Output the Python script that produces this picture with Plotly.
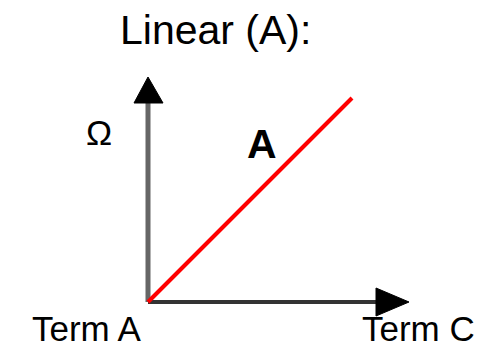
import plotly.graph_objects as go

# data: linear resistance from Term A to Term C
line_x = [0, 1]
line_y = [0, 1]
line_name = "A"
title_text = "Linear (A):"
y_label = "Ω"
x_start_label = "Term A"
x_end_label = "Term C"

W, H = 500, 347
# pixel mapping: origin at (148, 302), 204 px per unit
OX, OY, S = 148, 302, 204


def dx(px):
    return (px - OX) / S


def dy(py):
    return (OY - py) / S


fig = go.Figure()

fig.add_trace(go.Scatter(
    x=line_x, y=line_y, mode="lines",
    line=dict(color="#ff0000", width=4),
    hoverinfo="skip", showlegend=False,
))

shapes = [
    # vertical axis shaft + head
    dict(type="line", x0=0, y0=0, x1=0, y1=dy(103),
         line=dict(color="#666666", width=5), layer="below"),
    dict(type="path", path=f"M {dx(134)},{dy(103)} L {dx(163)},{dy(103)} L 0,{dy(77)} Z",
         fillcolor="#000000", line=dict(color="#000000", width=1)),
    # horizontal axis shaft + head
    dict(type="line", x0=0, y0=0, x1=dx(376), y1=0,
         line=dict(color="#333333", width=4), layer="below"),
    dict(type="path", path=f"M {dx(376)},{dy(288)} L {dx(376)},{dy(316)} L {dx(409)},0 Z",
         fillcolor="#000000", line=dict(color="#000000", width=1)),
]

font = "Liberation Sans, Arial, sans-serif"
annotations = [
    dict(text=title_text, x=dx(215), y=dy(30), font=dict(size=41)),
    dict(text=y_label, x=dx(99), y=dy(132), font=dict(size=35)),
    dict(text=f"<b>{line_name}</b>", x=dx(262), y=dy(144), font=dict(size=41)),
    dict(text=x_start_label, x=dx(86.5), y=dy(328), font=dict(size=35)),
    dict(text=x_end_label, x=dx(418), y=dy(328), font=dict(size=35)),
]
for a in annotations:
    a.update(xref="x", yref="y", showarrow=False, xanchor="center", yanchor="middle")
    a["font"].update(family=font, color="#000000")

fig.update_layout(
    width=W, height=H,
    margin=dict(l=0, r=0, t=0, b=0),
    paper_bgcolor="white", plot_bgcolor="white",
    xaxis=dict(range=[dx(0), dx(W)], visible=False, fixedrange=True),
    yaxis=dict(range=[dy(H), dy(0)], visible=False, fixedrange=True),
    shapes=shapes, annotations=annotations,
)

# drop the browser's default 8px body margin so the figure fills the window
fig.write_html(
    "out.html",
    config={"displayModeBar": False},
    post_script="document.body.style.margin='0';",
)
